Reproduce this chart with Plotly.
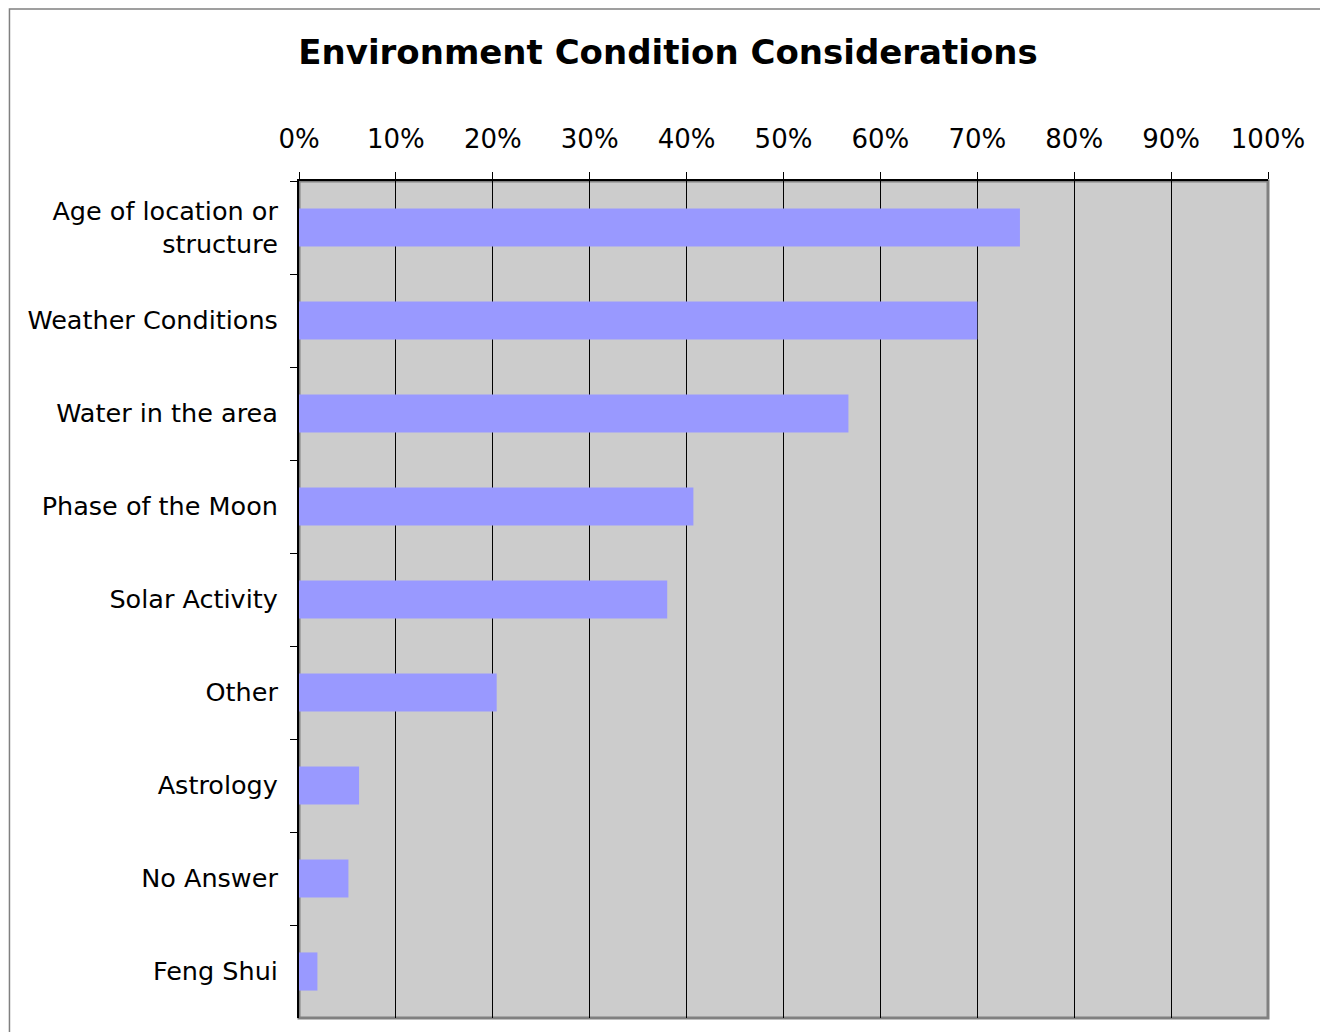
import plotly.graph_objects as go

categories = ['Age of location or<br>structure', 'Weather Conditions', 'Water in the area',
              'Phase of the Moon', 'Solar Activity', 'Other', 'Astrology',
              'No Answer', 'Feng Shui']
values = [0.744, 0.700, 0.567, 0.407, 0.380, 0.204, 0.062, 0.051, 0.019]
tick_vals = [i / 10 for i in range(11)]
tick_text = ['%d%%' % (i * 10) for i in range(11)]

font = 'Verdana, DejaVu Sans, sans-serif'

bars = go.Bar(x=values, y=categories, orientation='h',
              marker=dict(color='#9999FF', line=dict(width=0)))

# page has an 8px body margin, so the figure is sized/shifted to compensate
layout = go.Layout(
    width=1320, height=1024,
    margin=dict(l=291, r=60, t=173, b=14),
    paper_bgcolor='white',
    plot_bgcolor='#CCCCCC',
    bargap=0.59,
    showlegend=False,
    title=dict(text='<b>Environment Condition Considerations</b>',
               x=0.5, xref='container', xanchor='center',
               y=0.957, yref='container', yanchor='middle',
               font=dict(family=font, size=34, color='black')),
    xaxis=dict(side='top', range=[0, 1], tickvals=tick_vals, ticktext=tick_text,
               showgrid=True, gridcolor='black', gridwidth=1,
               showline=True, linecolor='black', linewidth=2,
               ticks='outside', ticklen=7, tickcolor='black', tickwidth=1,
               ticklabelstandoff=14, zeroline=False,
               tickfont=dict(family=font, size=26, color='black')),
    yaxis=dict(autorange='reversed', type='category', tickson='boundaries',
               showgrid=False, showline=True, linecolor='black', linewidth=2,
               ticks='outside', ticklen=7, tickcolor='black', tickwidth=1,
               ticklabelstandoff=14,
               tickfont=dict(family=font, size=25.5, color='black')),
    shapes=[
        # grey frame round the plot area
        dict(type='rect', xref='paper', yref='paper', x0=0, x1=1, y0=0, y1=1,
             line=dict(color='#808080', width=3), layer='below'),
        # outer chart border
        dict(type='rect', xref='paper', yref='paper', x0=-0.2988, x1=1.0609,
             y0=-0.03, y1=1.2055, line=dict(color='#808080', width=1.5)),
    ],
)

fig = go.Figure(data=[bars], layout=layout)
fig.write_html('out.html')
